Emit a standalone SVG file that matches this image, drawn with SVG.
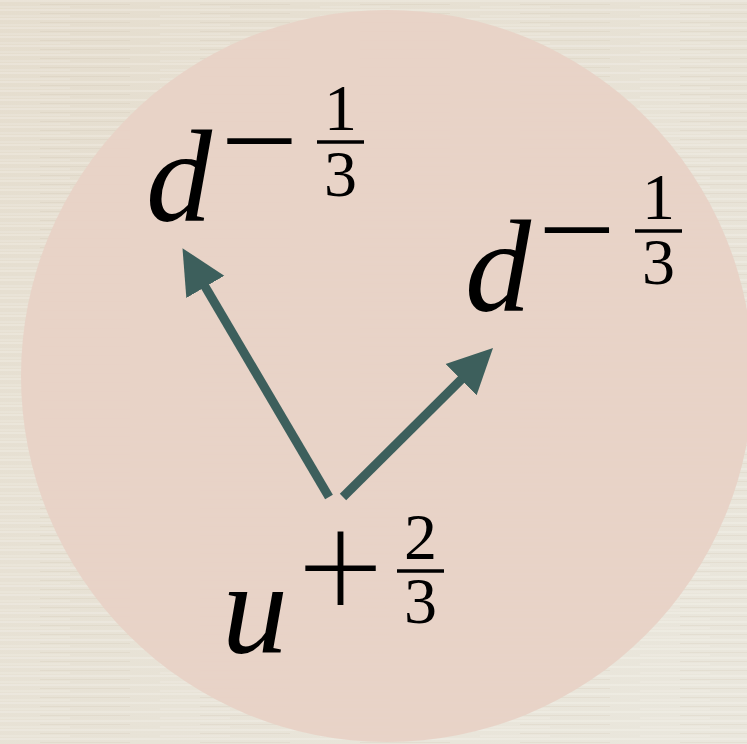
<svg xmlns="http://www.w3.org/2000/svg" width="747" height="744" viewBox="0 0 747 744">
  <defs>
    <linearGradient id="bg" x1="0" y1="0" x2="1" y2="1">
      <stop offset="0" stop-color="#e5ddce"/>
      <stop offset="1" stop-color="#eae7dd"/>
    </linearGradient>
    <pattern id="stripes" width="160" height="9" patternUnits="userSpaceOnUse">
      <rect x="0" y="0" width="160" height="2" fill="#ffffff" opacity="0.18"/>
      <rect x="40" y="4" width="90" height="1" fill="#b8a890" opacity="0.12"/>
      <rect x="0" y="6" width="70" height="2" fill="#ffffff" opacity="0.12"/>
    </pattern>
    <marker id="head" markerUnits="userSpaceOnUse" markerWidth="48" markerHeight="48" viewBox="0 0 48 48" refX="2" refY="23" orient="auto">
      <path d="M0,1 L45,23 L0,45 Z" fill="#3d5f5c"/>
    </marker>
    <style>
      .var { font-family: "Liberation Serif", "DejaVu Serif", serif; font-style: italic; fill: #000; }
      .op { font-family: Lato, "Liberation Sans", sans-serif; font-weight: 300; fill: #000; text-anchor: middle; }
      .num { font-family: "Liberation Serif", "DejaVu Serif", serif; font-size: 66px; fill: #000; text-anchor: middle; }
      .bar { stroke: #000; stroke-width: 3.5; }
      .arrow { stroke: #3d5f5c; stroke-width: 9; fill: none; marker-end: url(#head); }
    </style>
  </defs>
  <rect x="0" y="0" width="747" height="744" fill="url(#bg)"/>
  <rect x="0" y="0" width="747" height="744" fill="url(#stripes)"/>
  <circle id="hadron" cx="387" cy="376" r="366" fill="#e8d2c6" opacity="0.95"/>

  <g id="connectors">
    <line class="arrow" x1="329" y1="497" x2="204.3" y2="285.2"/>
    <line class="arrow" x1="343" y1="497" x2="462.5" y2="378.3"/>
  </g>

  <g id="d-left">
    <text class="var" x="146" y="221" font-size="132">d</text>
    <text class="op" x="259.5" y="193" font-size="155">−</text>
    <text class="num" x="340.5" y="130">1</text>
    <line class="bar" x1="317" y1="142" x2="364" y2="142"/>
    <text class="num" x="340.5" y="196">3</text>
  </g>

  <g id="d-right">
    <text class="var" x="465" y="311" font-size="132">d</text>
    <text class="op" x="577" y="282" font-size="155">−</text>
    <text class="num" x="658.5" y="219">1</text>
    <line class="bar" x1="635" y1="231" x2="682" y2="231"/>
    <text class="num" x="658.5" y="284">3</text>
  </g>

  <g id="u">
    <text class="var" x="222" y="652" font-size="132">u</text>
    <text class="op" x="340.5" y="619" font-size="150">+</text>
    <text class="num" x="420.5" y="559">2</text>
    <line class="bar" x1="397" y1="571" x2="444" y2="571"/>
    <text class="num" x="420.5" y="623">3</text>
  </g>
</svg>
